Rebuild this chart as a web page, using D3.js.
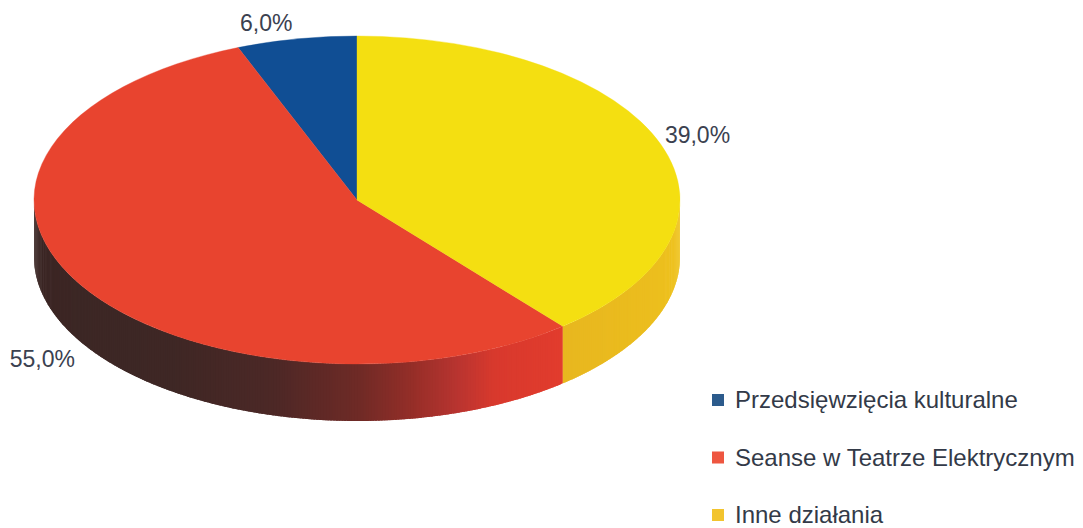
<!DOCTYPE html>
<html>
<head>
<meta charset="utf-8">
<script src="https://cdn.jsdelivr.net/npm/d3@7"></script>
<style>
  body { margin: 0; background: #fff; }
  svg { display: block; }
</style>
</head>
<body>
<div id="svg1"></div>
<script>
//***************** data *******************/
var categories = ["Przedsięwzięcia kulturalne", "Seanse w Teatrze Elektrycznym", "Inne działania"];
var values = [6.0, 55.0, 39.0];
var labels = ["6,0%", "55,0%", "39,0%"];

//***************** colours *******************/
var topColors = ["#104e94", "#e8442f", "#f4df11"];
var legendColors = ["#2c5b8c", "#ee5640", "#f2c42e"];
// wall shading by angle (degrees, clockwise from 12 o'clock)
var wallShade = [
  d3.scaleLinear().domain([0, 360]).range(["#0c3f7a", "#0c3f7a"]),
  d3.scaleLinear().domain([140, 155, 162, 170, 180, 195, 215, 270])
    .range(["#e23c2d", "#d8392d", "#b83430", "#962e28", "#6e2a26", "#4c2826", "#3e2725", "#3a2624"]),
  d3.scaleLinear().domain([90, 140]).range(["#efc41d", "#e8b71f"])
];

//************* set dimensions ***************/
var width = 1083, height = 528;
var cx = 357, cy = 200, rx = 323, ry = 164, depth = 57;

var svg = d3.select("#svg1")
  .append("svg")
    .attr("width", width)
    .attr("height", height);

//***************** pie layout *******************/
// counter-clockwise from 12 o'clock: blue, red, yellow
var pie = d3.pie().sort(null).startAngle(0).endAngle(-2 * Math.PI);
var arcs = pie(values);

function px(a) { return cx + rx * Math.sin(a); }
function py(a) { return cy - ry * Math.cos(a); }

//***************** walls *******************/
var walls = svg.append("g");
arcs.forEach(function(d, i) {
  var lo = Math.min(d.startAngle, d.endAngle), hi = Math.max(d.startAngle, d.endAngle);
  while (lo < -1e-6) { lo += 2 * Math.PI; hi += 2 * Math.PI; }
  var a0 = Math.max(lo, Math.PI / 2), a1 = Math.min(hi, 3 * Math.PI / 2);
  if (a1 <= a0) return;
  var step = Math.PI / 360;
  for (var a = a0; a < a1; a += step) {
    var b = Math.min(a + step * 1.8, a1);
    var p = d3.path();
    p.moveTo(px(a), py(a));
    p.lineTo(px(b), py(b));
    p.lineTo(px(b), py(b) + depth);
    p.lineTo(px(a), py(a) + depth);
    p.closePath();
    walls.append("path")
      .attr("d", p.toString())
      .attr("fill", wallShade[i]((a + step / 2) * 180 / Math.PI));
  }
});

//***************** top face *******************/
var arc = d3.arc().innerRadius(0).outerRadius(rx);
svg.append("g")
  .attr("transform", "translate(" + cx + "," + cy + ") scale(1," + (ry / rx) + ")")
  .selectAll("path")
  .data(arcs)
  .enter()
  .append("path")
    .attr("d", arc)
    .attr("fill", function(d, i) { return topColors[i]; })
    .attr("stroke", function(d, i) { return topColors[i]; })
    .attr("stroke-width", 0.5);

//***************** labels *******************/
svg.append("g")
  .selectAll("text")
  .data(arcs)
  .enter()
  .append("text")
    .attr("x", function(d) {
      var m = (d.startAngle + d.endAngle) / 2;
      return px(m) + (Math.sin(m) < 0 ? -4 : 4);
    })
    .attr("y", function(d) {
      var m = (d.startAngle + d.endAngle) / 2;
      var c = Math.cos(m);
      return cy - ry * 1.06 * c + 2 + (c < 0 ? depth + 20 : 0);
    })
    .attr("text-anchor", function(d) {
      var m = (d.startAngle + d.endAngle) / 2;
      return Math.sin(m) < 0 ? "end" : "start";
    })
    .attr("font-family", "'Liberation Sans', Arial, sans-serif")
    .attr("font-size", "23px")
    .attr("fill", "#3b4150")
    .text(function(d, i) { return labels[i]; });

//***************** legend *******************/
var legend = svg.append("g")
  .attr("transform", "translate(712,394)");
var row = legend.selectAll("g")
  .data(categories)
  .enter()
  .append("g")
    .attr("transform", function(d, i) { return "translate(0," + i * 57.5 + ")"; });
row.append("rect")
  .attr("width", 12)
  .attr("height", 12)
  .attr("fill", function(d, i) { return legendColors[i]; });
row.append("text")
  .attr("x", 23)
  .attr("y", 14)
  .attr("font-family", "'Liberation Sans', Arial, sans-serif")
  .attr("font-size", "24px")
  .attr("fill", "#333a48")
  .text(function(d) { return d; });
</script>
</body>
</html>
